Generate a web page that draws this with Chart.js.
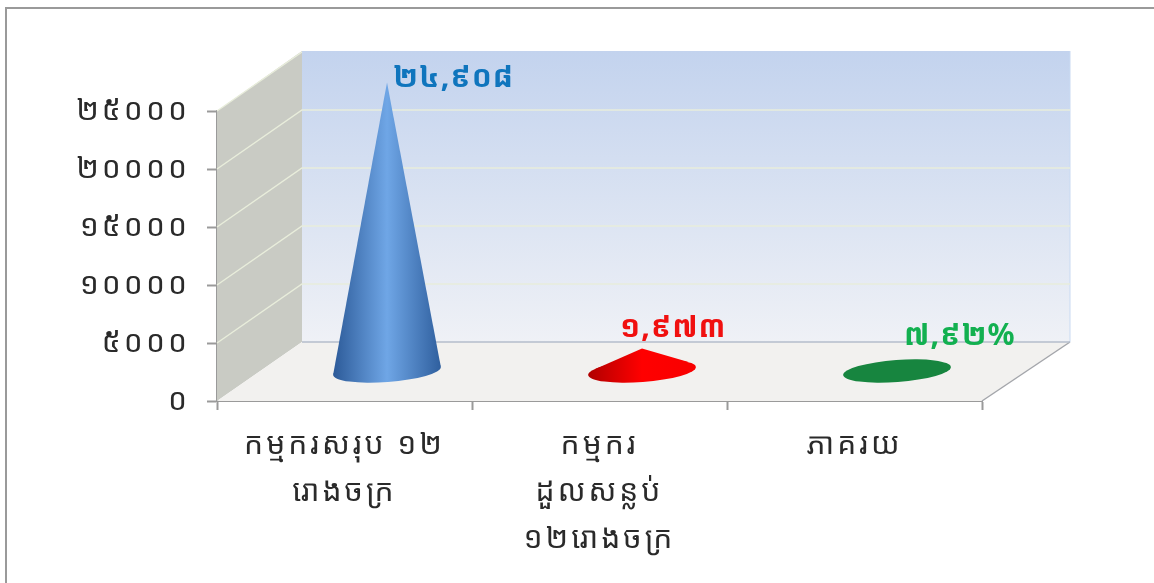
<!DOCTYPE html>
<html>
<head>
<meta charset="utf-8">
<style>
  html, body { margin: 0; padding: 0; background: #fff; overflow: hidden; }
  #wrap { position: relative; width: 1154px; height: 583px; }
  #frame { position: absolute; left: 5px; top: 7px; width: 1147px; height: 590px; border: 2px solid #9a9a9a; }
  canvas { position: absolute; left: 0; top: 0; }
</style>
<script src="https://cdn.jsdelivr.net/npm/chart.js@4/dist/chart.umd.min.js"></script>
</head>
<body>
<div id="wrap">
  <div id="frame"></div>
  <canvas id="coneChart" width="1154" height="583"></canvas>
</div>
<script>
const categories = [
  ['កម្មករសរុប ១២', 'រោងចក្រ'],
  ['កម្មករ', 'ដួលសន្លប់', '១២រោងចក្រ'],
  ['ភាគរយ']
];
const seriesValues = [24908, 1973, 7.92];
const valueLabels = ['២៤,៩០៨', '១,៩៧៣', '៧,៩២%'];
const yTickValues = [0, 5000, 10000, 15000, 20000, 25000];
const yTickLabels = ['០', '៥០០០', '១០០០០', '១៥០០០', '២០០០០', '២៥០០០'];

const FONT = "'Noto Sans Khmer', 'Khmer OS', 'Noto Sans', 'DejaVu Sans', sans-serif";
const DEPTH_X = 85;
const DEPTH_Y = -59;
const WALL_EXTRA = 1;

const coneStyles = [
  { left: '#2c5a98', mid: '#6fa6e6', right: '#2f5f9e', label: '#0f75bd', labelDx: 6, labelY: 78 },
  { left: '#b00000', mid: '#ff0000', right: '#f80000', label: '#f01010', labelDx: -22, labelY: 328 },
  { left: '#17853f', mid: '#17853f', right: '#17853f', label: '#12b050', labelDx: 7, labelY: 336 }
];

// Walls and floor of the 3D box, behind the cones
const boxPlugin = {
  id: 'box',
  beforeDraw(chart) {
    // tick labels in the picture are widely spaced
    chart.ctx.letterSpacing = '3px';
  },
  beforeDatasetsDraw(chart) {
    const { ctx, chartArea: a, scales: { y } } = chart;
    const y0 = y.getPixelForValue(0);
    const yTop = y.getPixelForValue(25000);
    const backRight = a.right + DEPTH_X + 3;
    ctx.save();

    // back wall
    const g = ctx.createLinearGradient(0, yTop + DEPTH_Y, 0, y0 + DEPTH_Y);
    g.addColorStop(0, '#c3d3ee');
    g.addColorStop(1, '#eff1f6');
    ctx.fillStyle = g;
    ctx.fillRect(a.left + DEPTH_X, yTop + DEPTH_Y - WALL_EXTRA, a.width + 3, y0 - yTop + WALL_EXTRA);
    ctx.strokeStyle = '#c9daf2';
    ctx.lineWidth = 1;
    ctx.beginPath();
    ctx.moveTo(backRight, yTop + DEPTH_Y - WALL_EXTRA);
    ctx.lineTo(backRight, y0 + DEPTH_Y);
    ctx.stroke();

    // side wall
    ctx.fillStyle = '#c9cbc4';
    ctx.beginPath();
    ctx.moveTo(a.left, yTop);
    ctx.lineTo(a.left + DEPTH_X, yTop + DEPTH_Y - WALL_EXTRA);
    ctx.lineTo(a.left + DEPTH_X, y0 + DEPTH_Y);
    ctx.lineTo(a.left, y0);
    ctx.closePath();
    ctx.fill();

    // floor
    ctx.fillStyle = '#f2f1ef';
    ctx.beginPath();
    ctx.moveTo(a.left, y0);
    ctx.lineTo(a.left + DEPTH_X, y0 + DEPTH_Y);
    ctx.lineTo(backRight, y0 + DEPTH_Y);
    ctx.lineTo(a.right, y0);
    ctx.closePath();
    ctx.fill();
    ctx.strokeStyle = '#a4a6ab';
    ctx.lineWidth = 1.5;
    ctx.beginPath();
    ctx.moveTo(backRight, y0 + DEPTH_Y);
    ctx.lineTo(a.right, y0);
    ctx.stroke();
    ctx.strokeStyle = '#b4bccb';
    ctx.beginPath();
    ctx.moveTo(a.left + DEPTH_X, y0 + DEPTH_Y);
    ctx.lineTo(backRight, y0 + DEPTH_Y);
    ctx.stroke();

    // grid lines, skipping the floor and the top edge
    ctx.strokeStyle = '#e8eddb';
    ctx.lineWidth = 1.5;
    y.ticks.forEach(t => {
      const py = y.getPixelForValue(t.value);
      if (t.value === 0) return;
      ctx.beginPath();
      ctx.moveTo(a.left, py);
      ctx.lineTo(a.left + DEPTH_X, py + DEPTH_Y);
      if (t.value < 25000) ctx.lineTo(backRight, py + DEPTH_Y);
      ctx.stroke();
    });
    ctx.restore();
  }
};

// Cones sit on the bar elements, shifted half way into the box
const conePlugin = {
  id: 'cones',
  afterDatasetsDraw(chart) {
    const { ctx } = chart;
    const meta = chart.getDatasetMeta(0);
    const rx = 54, ry = 11, tilt = -0.075;
    const cos = Math.cos(tilt), sin = Math.sin(tilt);
    ctx.save();
    meta.data.forEach((bar, i) => {
      const st = coneStyles[i];
      const cx = bar.x + DEPTH_X / 2;
      const baseY = bar.base + DEPTH_Y / 2;
      const h = bar.base - bar.y;
      const g = ctx.createLinearGradient(cx - rx, 0, cx + rx, 0);
      g.addColorStop(0, st.left);
      g.addColorStop(0.5, st.mid);
      g.addColorStop(1, st.right);
      ctx.fillStyle = g;
      ctx.beginPath();
      ctx.ellipse(cx, baseY, rx, ry, tilt, 0, Math.PI * 2);
      ctx.fill();
      if (h > ry) {
        // outline runs from the tip to the tangent points on the base ellipse
        const ty = -ry * ry / h;
        const tx = rx * Math.sqrt(1 - (ry * ry) / (h * h));
        ctx.beginPath();
        ctx.moveTo(cx - tx * cos - ty * sin, baseY - tx * sin + ty * cos);
        ctx.lineTo(cx, baseY - h);
        ctx.lineTo(cx + tx * cos - ty * sin, baseY + tx * sin + ty * cos);
        ctx.closePath();
        ctx.fill();
      }
      ctx.fillStyle = st.label;
      ctx.font = 'bold 30px ' + FONT;
      ctx.letterSpacing = '1px';
      ctx.textAlign = 'left';
      ctx.textBaseline = 'middle';
      ctx.fillText(valueLabels[i], cx + st.labelDx, st.labelY);
    });
    ctx.restore();
  }
};

new Chart(document.getElementById('coneChart'), {
  type: 'bar',
  data: {
    labels: categories,
    datasets: [{ data: seriesValues, backgroundColor: 'transparent', borderWidth: 0 }]
  },
  plugins: [boxPlugin, conePlugin],
  options: {
    responsive: false,
    animation: false,
    layout: { padding: { left: 0, top: 111, right: 172, bottom: 0 } },
    plugins: { legend: { display: false }, tooltip: { enabled: false } },
    scales: {
      x: {
        afterFit(scale) { scale.height = 182; },
        grid: { drawOnChartArea: false, drawTicks: true, tickLength: 9, tickColor: '#9a9a9a', tickWidth: 2 },
        border: { color: '#9a9a9a', width: 2 },
        ticks: {
          color: '#2a2a2a', padding: 12, maxRotation: 0, autoSkip: false,
          font: { family: FONT, size: 30, lineHeight: 1.57 }
        }
      },
      y: {
        min: 0,
        max: 25000,
        afterFit(scale) { scale.width = 217; },
        afterBuildTicks(scale) { scale.ticks = yTickValues.map(value => ({ value })); },
        grid: { drawOnChartArea: false, drawTicks: true, tickLength: 10, tickColor: '#9a9a9a', tickWidth: 2 },
        border: { color: '#9a9a9a', width: 2 },
        ticks: {
          color: '#2a2a2a', padding: 17,
          font: { family: FONT, size: 30 },
          callback(value) { return yTickLabels[yTickValues.indexOf(value)]; }
        }
      }
    }
  }
});
</script>
</body>
</html>
